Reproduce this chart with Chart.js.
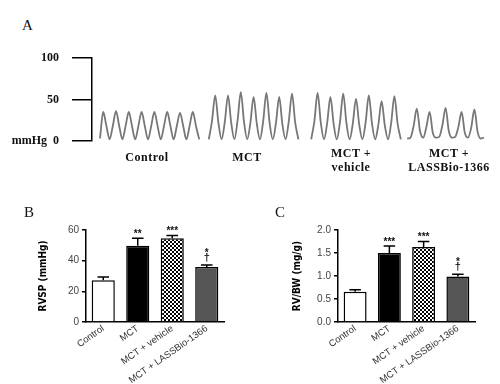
<!DOCTYPE html>
<html><head><meta charset="utf-8">
<script src="https://cdn.jsdelivr.net/npm/chart.js@4.4.1/dist/chart.umd.min.js"></script>
<style>
html,body{margin:0;padding:0;background:#fff;}
#wrap{position:relative;width:500px;height:384px;overflow:hidden;background:#fff;}
canvas{position:absolute;}
.lbl{position:absolute;font-family:"Liberation Serif","Times New Roman",serif;color:#111;text-align:center;white-space:nowrap;}
.grp{font-size:12px;font-weight:bold;letter-spacing:0.5px;line-height:14px;width:120px;}
.panel{font-size:15px;line-height:17px;}
</style></head><body>
<div id="wrap">
<canvas id="cA" width="500" height="103" style="left:0;top:48px"></canvas>
<canvas id="cB" width="245" height="169" style="left:0;top:215px"></canvas>
<canvas id="cC" width="250" height="169" style="left:250px;top:215px"></canvas>
<div class="lbl panel" style="left:22px;top:17px">A</div>
<div class="lbl panel" style="left:24px;top:204px">B</div>
<div class="lbl panel" style="left:275px;top:204px">C</div>
<div class="lbl grp" style="left:87px;top:150px">Control</div>
<div class="lbl grp" style="left:187px;top:150px">MCT</div>
<div class="lbl grp" style="left:291px;top:146px">MCT +<br>vehicle</div>
<div class="lbl grp" style="left:389px;top:146px">MCT +<br>LASSBio-1366</div>
</div>
<script>
// ---- Panel A: representative RV pressure traces (mmHg), sampled evenly in time ----
const traceControl = [3,35,18,2, 18,36,18,2, 18,35,18,2, 18,35,18,2, 18,35,18,2, 18,35,18,2, 18,34,18,2, 18,35,18,2];
const traceMCT = [2, 24,55,22,2, 23,55,22,2, 25,59,23,2, 22,53,21,2, 24,58,22,2, 22,53,20,2, 24,57,22,2];
const traceVehicle = [2, 24,58,22,2, 22,53,21,2, 23,57,22,2, 21,51,20,2, 22,55,21,2, 20,48,19,2, 22,54,21,2];
const traceLASSBio = [3,4,18,39,12,4, 17,35,10,4,5, 19,40,12,4,5, 17,35,10,4, 16,38,11,3,4];
const traceTicks = [0, 50, 100];

// ---- Panels B and C ----
const groups = ['Control', 'MCT', 'MCT + vehicle', 'MCT + LASSBio-1366'];
const rvsp = [27.3, 49.7, 54.6, 35.8];
const rvspSem = [2.1, 4.9, 1.8, 1.3];
const rvspSig = ['', '**', '***', '*'];
const rvbw = [0.66, 1.50, 1.63, 0.99];
const rvbwSem = [0.04, 0.15, 0.12, 0.05];
const rvbwSig = ['', '***', '***', '*'];
const daggers = ['', '', '', '\u2020'];

Chart.defaults.font.family = '"Liberation Sans", Arial, sans-serif';

// build trace points (sample index on x), with gaps between recordings
const segs = [traceControl, traceMCT, traceVehicle, traceLASSBio];
const gapAfter = [2, 3, 1];
const pts = []; let k = 0;
segs.forEach((s, si) => {
  s.forEach(v => pts.push({x: k++, y: v}));
  if (si < gapAfter.length) for (let g = 0; g < gapAfter[si]; g++) pts.push({x: k++, y: null});
});

new Chart(document.getElementById('cA'), {
  type: 'line',
  data: { datasets: [{ data: pts, borderColor: '#777', borderWidth: 1.8, pointRadius: 0,
    cubicInterpolationMode: 'monotone', spanGaps: false, fill: false }] },
  options: {
    responsive: false, animation: false, devicePixelRatio: 1,
    layout: { padding: { top: 10, bottom: 10, left: 0, right: 0 } },
    plugins: { legend: { display: false }, tooltip: { enabled: false } },
    scales: {
      x: { type: 'linear', display: false, min: -2.5, max: 125 },
      y: { min: 0, max: 100,
        afterBuildTicks: s => { s.ticks = traceTicks.map(v => ({ value: v })); },
        afterFit: s => { s.width = 92; s.paddingTop = 5; s.paddingBottom = 5; },
        grid: { drawOnChartArea: false, drawTicks: true, tickLength: 20, color: '#000', lineWidth: 1.5 },
        border: { display: true, color: '#000', width: 1.5 },
        ticks: { padding: 13, color: '#111', font: { family: '"Liberation Serif", serif', size: 12, weight: 'bold' },
          callback: v => v === 0 ? 'mmHg  0' : String(v) } }
    }
  }
});

const errorPlugin = {
  id: 'errs',
  afterDatasetsDraw(chart, args, opts) {
    const ctx = chart.ctx, meta = chart.getDatasetMeta(0), ys = chart.scales.y;
    const vals = chart.data.datasets[0].data;
    ctx.save();
    ctx.strokeStyle = '#000'; ctx.lineWidth = 1.5; ctx.fillStyle = '#111';
    ctx.textAlign = 'center'; ctx.textBaseline = 'alphabetic';
    meta.data.forEach((bar, i) => {
      const top = ys.getPixelForValue(vals[i] + opts.sem[i]);
      const half = bar.width / 4;
      ctx.beginPath();
      ctx.moveTo(bar.x, bar.y); ctx.lineTo(bar.x, top);
      ctx.moveTo(bar.x - half, top); ctx.lineTo(bar.x + half, top);
      ctx.stroke();
      ctx.font = 'bold 10px "Liberation Sans", Arial, sans-serif';
      if (opts.dagger[i]) {
        ctx.font = 'bold 11px "Liberation Sans", Arial, sans-serif';
        ctx.fillText(opts.dagger[i], bar.x, top - 4);
        ctx.font = 'bold 10px "Liberation Sans", Arial, sans-serif';
        ctx.fillText(opts.sig[i], bar.x, top - 9);
      } else if (opts.sig[i]) {
        ctx.fillText(opts.sig[i], bar.x, top - 1.5);
      }
    });
    ctx.restore();
  }
};

function checker(canvas) {
  const t = document.createElement('canvas'); t.width = 4; t.height = 4;
  const g = t.getContext('2d');
  g.fillStyle = '#fff'; g.fillRect(0, 0, 4, 4);
  g.fillStyle = '#000'; g.fillRect(0, 0, 2, 2); g.fillRect(2, 2, 2, 2);
  return canvas.getContext('2d').createPattern(t, 'repeat');
}

function barChart(id, values, sems, sigs, yMax, step, dec, title, padL, yW, padR) {
  const cv = document.getElementById(id);
  new Chart(cv, {
    type: 'bar',
    data: { labels: groups, datasets: [{ data: values,
      backgroundColor: ['#fff', '#000', checker(cv), '#555'],
      borderColor: '#000', borderWidth: 1.5, categoryPercentage: 1, barPercentage: 0.67 }] },
    plugins: [errorPlugin],
    options: {
      responsive: false, animation: false, devicePixelRatio: 1,
      layout: { padding: { top: 15, bottom: 0, left: padL, right: padR } },
      plugins: { legend: { display: false }, tooltip: { enabled: false },
        errs: { sem: sems, sig: sigs, dagger: daggers } },
      scales: {
        x: { afterFit: s => { s.height = 62; },
          grid: { display: false, drawTicks: false },
          border: { display: true, color: '#000', width: 1.5 },
          ticks: { autoSkip: false, minRotation: 35, maxRotation: 35, padding: 1, color: '#333', font: { size: 9.5 } } },
        y: { min: 0, max: yMax,
          afterFit: s => { s.width = yW; },
          grid: { drawOnChartArea: false, drawTicks: true, tickLength: 4, color: '#000', lineWidth: 1.5 },
          border: { display: true, color: '#000', width: 1.5 },
          ticks: { stepSize: step, padding: 3, color: '#444', font: { size: 10 }, callback: v => Number(v).toFixed(dec) },
          title: { display: true, text: title, color: '#000', padding: 0,
            font: { family: '"Liberation Sans Narrow", "DejaVu Sans Condensed", Arial, sans-serif', size: 10, weight: 'bold' } } }
      }
    }
  });
}

barChart('cB', rvsp, rvspSem, rvspSig, 60, 20, 0, 'RVSP (mmHg)', 37, 49, 21);
barChart('cC', rvbw, rvbwSem, rvbwSig, 2, 0.5, 1, 'RV/BW (mg/g)', 41, 47, 25);
</script>
</body></html>
